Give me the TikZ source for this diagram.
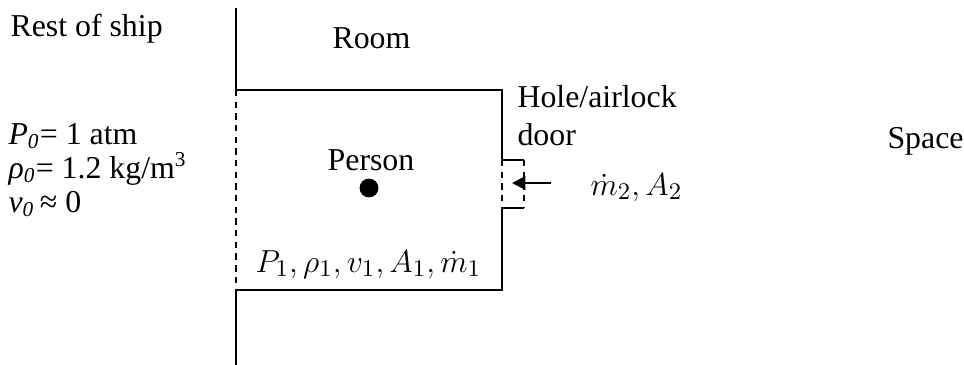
\documentclass[tikz,border=0pt]{standalone}
\usepackage{fontspec}
\setmainfont{Liberation Serif}
\usetikzlibrary{arrows.meta}

\begin{document}
\begin{tikzpicture}[
    x=0.01325cm, y=-0.01325cm,
    lbl/.style={inner sep=0pt, font=\fontsize{12}{14}\selectfont, align=left},
    wall/.style={line width=0.8pt},
    open/.style={line width=0.8pt, dash pattern=on 2.4pt off 2pt},
    arrow/.style={-{Triangle[length=5pt, width=5pt]}, line width=0.8pt},
    dot/.style={circle, fill=black, inner sep=0pt, minimum size=0.25cm}
]
    \useasboundingbox (0,0) rectangle (964,365);

    % Labels
    \node[lbl, anchor=base west] (ship)  at (10,36)   {Rest of ship};
    \node[lbl, anchor=base west] (room)  at (332,48)  {Room};
    \node[lbl, anchor=base west] (space) at (887,148) {Space};
    \node[lbl, anchor=base west, font=\fontsize{12}{14.3}\selectfont]
        (hole) at (517,145) {Hole/airlock\\door};
    \node[lbl, anchor=base west, font=\fontsize{12}{12.8}\selectfont] (state0) at (8,212) {
        \textit{P}\textsubscript{\textit{0}}= 1 atm\\
        \textit{ρ}\textsubscript{\textit{0}}= 1.2 kg/m\textsuperscript{3}\\
        \textit{v}\textsubscript{\textit{0}}\,≈ 0};

    % Wall and room
    \coordinate (wtop) at (236,8);
    \coordinate (wbot) at (236,365);
    \coordinate (tl) at (236,90);
    \coordinate (tr) at (502,90);
    \coordinate (bl) at (236,290);
    \coordinate (br) at (502,290);
    \coordinate (h1) at (502,160);
    \coordinate (h2) at (502,208);
    \coordinate (h3) at (524,160);
    \coordinate (h4) at (524,208);

    \draw[wall] (wtop) -- (tl) -- (tr) -- (h1) -- (h3);
    \draw[wall] (h4) -- (h2) -- (br) -- (bl) -- (wbot);
    \draw[open] (tl) -- (bl);
    \draw[open] (h1) -- (h2);
    \draw[open] (h3) -- (h4);

    % Person
    \node[dot] (person) at (369,188) {};
    \node[lbl, anchor=base] (plab) at (371,170) {Person};
    \node[lbl, anchor=base west, font=\fontsize{12.5}{15}\selectfont]
        (state1) at (255,272) {$P_1, \rho_1, v_1, A_1, \dot{m}_1$};

    % Inflow
    \coordinate (jet) at (551,183);
    \coordinate (jetend) at (512,183);
    \draw[arrow] (jet) -- (jetend);
    \node[lbl, anchor=base west, font=\fontsize{13}{15}\selectfont]
        (state2) at (590,195) {$\dot{m}_2, A_2$};
\end{tikzpicture}
\end{document}
